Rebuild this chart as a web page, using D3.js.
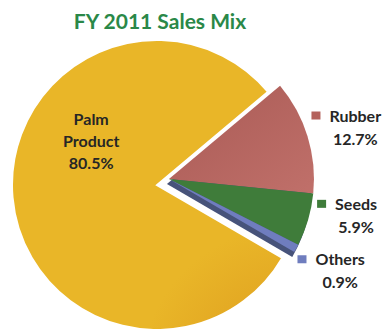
<!DOCTYPE html>
<html>
	<head>
		<meta charset="utf-8"/>
		<script src="https://d3js.org/d3.v7.min.js"></script>
		<style>
			body { margin: 0; background: #fff; }
			svg { display: block; }
			.title { font-family: Lato, 'Open Sans', sans-serif; font-weight: 700; font-size: 21px; fill: #2A8848; }
			.lbl { font-family: Lato, 'Open Sans', sans-serif; fill: #262626; font-weight: 700; }
		</style>
	</head>
	<body>
		<div id="chart"></div>
		<script>
			// data
			var categories = ["Palm Product", "Rubber", "Seeds", "Others"];
			var shares = [80.5, 12.7, 5.9, 0.9];
			var colors = ["#E4A923", "#B4625C", "#3F7C3A", "#6F7DBE"];
			var title = "FY 2011 Sales Mix";

			var W = 387, H = 329;
			var cx = 157, cy = 185, r = 145;
			var startDeg = 120.2; // palm slice begins here, small slices end at the same angle
			var explode = 12;
			var nudge = [4, -20, -3]; // vertical shifts so the outside labels don't crowd

			var svg = d3.select('#chart').append('svg')
				.attr('width', W).attr('height', H);

			var defs = svg.append('defs');
			var grad = defs.append('radialGradient').attr('id', 'palm')
				.attr('gradientUnits', 'userSpaceOnUse')
				.attr('cx', cx - 20).attr('cy', cy + 10).attr('r', r + 10);
			grad.append('stop').attr('offset', 0).attr('stop-color', '#DE9F20');
			grad.append('stop').attr('offset', 0.55).attr('stop-color', '#E3A823');
			grad.append('stop').attr('offset', 1).attr('stop-color', '#E9B628');
			var grad2 = defs.append('linearGradient').attr('id', 'rub').attr('x1', 0).attr('y1', 0).attr('x2', 1).attr('y2', 1);
			grad2.append('stop').attr('offset', 0).attr('stop-color', '#A95A55');
			grad2.append('stop').attr('offset', 1).attr('stop-color', '#C0706A');

			svg.append('text').attr('class', 'title')
				.attr('x', 160).attr('y', 29).attr('text-anchor', 'middle')
				.text(title);

			var data = categories.map((c, i) => ({name: c, value: shares[i], color: colors[i]}));
			var start = startDeg * Math.PI / 180;
			var pie = d3.pie().sort(null).value(d => d.value)
				.startAngle(start).endAngle(start + 2 * Math.PI);
			var arcs = pie(data);
			var arc = d3.arc().innerRadius(0).outerRadius(r);
			var labelArc = d3.arc().innerRadius(195).outerRadius(195);

			// exploded group: everything but palm
			var small = arcs.slice(1);
			var a0 = small[0].startAngle, a1 = small[small.length - 1].endAngle;
			var mid = (a0 + a1) / 2;
			var off = [Math.sin(mid) * explode, -Math.cos(mid) * explode - 5];

			var g = svg.append('g').attr('transform', `translate(${cx},${cy})`);

			// palm
			g.append('path')
				.attr('d', arc(arcs[0]))
				.attr('fill', 'url(#palm)')
				.attr('stroke', '#fff').attr('stroke-width', 2).attr('stroke-linejoin', 'miter');

			var ex = g.append('g').attr('transform', `translate(${off[0]},${off[1]})`);
			// 3d side of the exploded pieces
			ex.append('path')
				.attr('d', arc({startAngle: a0, endAngle: a1}))
				.attr('transform', 'translate(-2,5)')
				.attr('fill', '#47537A');
			ex.selectAll('path.slice').data(small).enter().append('path')
				.attr('class', 'slice')
				.attr('d', arc)
				.attr('fill', (d, i) => i === 0 ? 'url(#rub)' : d.data.color);

			// outside labels with legend keys
			small.forEach(function(d, i) {
				var p = labelArc.centroid(d);
				var lx = p[0] + off[0], ly = p[1] + off[1] + nudge[i];
				var t1 = g.append('text').attr('class', 'lbl')
					.attr('x', lx).attr('y', ly - 4)
					.attr('text-anchor', 'middle').style('font-size', '16px')
					.text(d.data.name);
				var w = t1.node().getComputedTextLength();
				g.append('rect')
					.attr('x', lx - w / 2 - 18).attr('y', ly - 14)
					.attr('width', 9).attr('height', 8)
					.attr('fill', d.data.color);
				g.append('text').attr('class', 'lbl')
					.attr('x', lx).attr('y', ly + 19)
					.attr('text-anchor', 'middle').style('font-size', '16px')
					.text(d3.format('.1f')(d.data.value) + '%');
			});

			// palm label, placed upper-left inside the slice
			var pp = d3.pointRadial(-60 * Math.PI / 180, 76);
			var pl = g.append('text').attr('class', 'lbl')
				.attr('text-anchor', 'middle')
				.style('font-size', '16px')
				.attr('x', pp[0]).attr('y', pp[1]);
			["Palm", "Product", d3.format('.1f')(shares[0]) + '%'].forEach(function(s, i) {
				pl.append('tspan').attr('x', pp[0]).attr('dy', i ? 22 : -22).text(s);
			});
		</script>
	</body>
</html>
